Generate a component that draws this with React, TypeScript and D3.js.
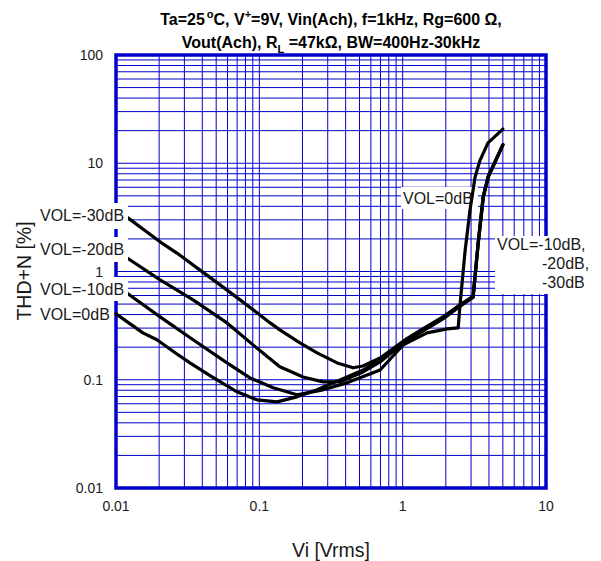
import React from 'react';
import * as d3 from 'd3';

// tick values and labels
const xTicks = [0.01, 0.1, 1, 10];
const xTickLabels = ['0.01', '0.1', '1', '10'];
const yTicks = [0.01, 0.1, 1, 10, 100];
const yTickLabels = ['0.01', '0.1', '1', '10', '100'];

// THD+N [%] vs Vi [Vrms]
const vol0dB: [number, number][] = [
  [0.01, 0.406], [0.0154, 0.271], [0.0193, 0.234], [0.0266, 0.173], [0.0328, 0.143],
  [0.0453, 0.109], [0.0699, 0.0774], [0.0964, 0.0652], [0.133, 0.0625], [0.183, 0.0695],
  [0.253, 0.0807], [0.366, 0.0998], [0.529, 0.123], [0.696, 0.153], [1.01, 0.21],
  [1.48, 0.271], [2.04, 0.295], [2.44, 0.301], [2.52, 0.513], [2.73, 1.58],
  [2.95, 3.7], [3.2, 7.47], [3.47, 10.7], [3.94, 15.4], [5.0, 20.7],
];
const vol10dB: [number, number][] = [
  [0.01, 0.752], [0.0119, 0.634], [0.0203, 0.381], [0.0345, 0.234], [0.0595, 0.143],
  [0.0861, 0.104], [0.125, 0.0842], [0.183, 0.0726], [0.278, 0.0807], [0.409, 0.0936],
  [0.696, 0.123], [1.07, 0.228], [1.39, 0.282], [1.91, 0.365], [2.52, 0.478],
  [3.1, 0.575], [3.36, 1.84], [3.64, 4.88], [3.94, 7.47], [4.56, 11.4], [5.0, 14.8],
];
const vol20dB: [number, number][] = [
  [0.01, 1.56], [0.0119, 1.34], [0.0203, 0.836], [0.0345, 0.547], [0.0595, 0.335],
  [0.0904, 0.21], [0.139, 0.132], [0.202, 0.106], [0.278, 0.0956], [0.366, 0.0956],
  [0.529, 0.118], [0.696, 0.146], [1.07, 0.234], [1.39, 0.289], [1.91, 0.372],
  [2.52, 0.486], [3.1, 0.582], [3.38, 1.9], [3.66, 4.95], [3.96, 7.5], [4.58, 11.4], [5.0, 14.8],
];
const vol30dB: [number, number][] = [
  [0.01, 3.7], [0.0121, 3.13], [0.0203, 1.88], [0.0266, 1.48], [0.0386, 1.03],
  [0.0532, 0.752], [0.0734, 0.547], [0.0964, 0.415], [0.119, 0.335], [0.139, 0.289],
  [0.192, 0.219], [0.253, 0.177], [0.349, 0.143], [0.451, 0.129], [0.529, 0.134],
  [0.696, 0.159], [1.07, 0.24], [1.39, 0.296], [1.91, 0.38], [2.52, 0.494],
  [3.1, 0.59], [3.37, 1.87], [3.65, 4.9], [3.95, 7.5], [4.57, 11.4], [5.0, 14.8],
];
const curves = [vol0dB, vol10dB, vol20dB, vol30dB];

const FONT = '"Liberation Sans", Arial, Helvetica, sans-serif';
const BLUE = '#0000cc';

const App: React.FC = () => {
  const left = 116, right = 546, top = 55, bottom = 488;

  const x = d3.scaleLog().domain([0.01, 10]).range([left, right]);
  const y = d3.scaleLog().domain([0.01, 100]).range([bottom, top]);

  const line = d3.line<[number, number]>()
    .x((d) => x(d[0]))
    .y((d) => y(d[1]))
    .curve(d3.curveLinear);

  // minor grid: 1..9 in every decade
  const xGrid: number[] = [];
  [0.01, 0.1, 1].forEach((dec) => d3.range(1, 10).forEach((k) => xGrid.push(k * dec)));
  const yGrid: number[] = [];
  [0.01, 0.1, 1, 10].forEach((dec) => d3.range(1, 10).forEach((k) => yGrid.push(k * dec)));

  const labelStyle = { fontFamily: FONT, fontSize: 16, fill: '#1a1a1a' };

  return (
    <svg width={601} height={561} style={{ position: 'absolute', left: 0, top: 0, background: '#fff' }}>
      {/* title */}
      <text x={331} y={25} textAnchor="middle" fontFamily={FONT} fontSize={16} fontWeight="bold">
        Ta=25
        <tspan dx={2} dy={-7} fontSize={11}>o</tspan>
        <tspan dy={7}>C, V</tspan>
        <tspan dy={-7} fontSize={11}>+</tspan>
        <tspan dy={7}>=9V, Vin(Ach), f=1kHz, Rg=600 Ω,</tspan>
      </text>
      <text x={331} y={48} textAnchor="middle" fontFamily={FONT} fontSize={16} fontWeight="bold">
        Vout(Ach), R
        <tspan dy={5} fontSize={11}>L</tspan>
        <tspan dy={-5}> =47kΩ, BW=400Hz-30kHz</tspan>
      </text>

      {/* grid */}
      <g stroke={BLUE} strokeWidth={1}>
        {xGrid.map((v, i) => (
          <line key={'gx' + i} x1={x(v)} x2={x(v)} y1={top} y2={bottom} />
        ))}
        {yGrid.map((v, i) => (
          <line key={'gy' + i} x1={left} x2={right} y1={y(v)} y2={y(v)} />
        ))}
      </g>
      <rect x={left} y={top} width={right - left} height={bottom - top} fill="none" stroke={BLUE} strokeWidth={3.5} />

      {/* tick labels */}
      {yTicks.map((v, i) => (
        <text key={'yt' + i} x={103} y={y(v) + 5} textAnchor="end" fontFamily={FONT} fontSize={14} fill="#1a1a1a">
          {yTickLabels[i]}
        </text>
      ))}
      {xTicks.map((v, i) => (
        <text key={'xt' + i} x={x(v)} y={511} textAnchor="middle" fontFamily={FONT} fontSize={14} fill="#1a1a1a">
          {xTickLabels[i]}
        </text>
      ))}

      {/* axis titles */}
      <text x={331} y={557} textAnchor="middle" fontFamily={FONT} fontSize={19.5} fill="#1a1a1a">Vi [Vrms]</text>
      <text transform="translate(31,271) rotate(-90)" textAnchor="middle" fontFamily={FONT} fontSize={19.5} fill="#1a1a1a">
        THD+N [%]
      </text>

      {/* label inside the plot */}
      <rect x={401} y={187} width={77} height={22} fill="#fff" />
      <text x={403} y={204} {...labelStyle}>VOL=0dB</text>

      {/* curves */}
      <g fill="none" stroke="#000" strokeWidth={3.2} strokeLinejoin="round" strokeLinecap="round">
        {curves.map((c, i) => (
          <path key={'c' + i} d={line(c) || ''} />
        ))}
      </g>

      {/* left labels */}
      <rect x={36} y={203} width={92} height={26} fill="#fff" />
      <text x={40} y={221} {...labelStyle}>VOL=-30dB</text>
      <rect x={36} y={237} width={92} height={25} fill="#fff" />
      <text x={40} y={255} {...labelStyle}>VOL=-20dB</text>
      <rect x={36} y={277} width={92} height={24} fill="#fff" />
      <text x={40} y={295} {...labelStyle}>VOL=-10dB</text>
      <rect x={36} y={303} width={74} height={22} fill="#fff" />
      <text x={40} y={320} {...labelStyle}>VOL=0dB</text>

      {/* right labels */}
      <rect x={495} y={236} width={106} height={58} fill="#fff" />
      <text x={497} y={250} {...labelStyle}>VOL=-10dB,</text>
      <text x={542} y={269} {...labelStyle}>-20dB,</text>
      <text x={542} y={288} {...labelStyle}>-30dB</text>
    </svg>
  );
};

export default App;
